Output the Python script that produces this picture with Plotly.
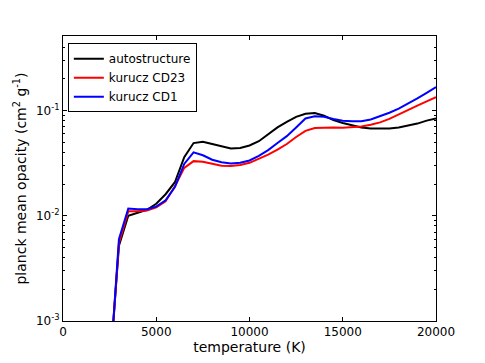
import plotly.graph_objects as go

# temperature grid (K)
temperature = [2500, 3000, 3500, 4000, 4500, 5000, 5500, 6000, 6500, 7000,
               7500, 8000, 8500, 9000, 9500, 10000, 10500, 11000, 11500, 12000,
               12500, 13000, 13500, 14000, 14500, 15000, 15500, 16000, 16500, 17000,
               17500, 18000, 18500, 19000, 19500, 20000]

autostructure = [3.3e-4, 0.0052, 0.0100, 0.0106, 0.0114, 0.0130, 0.0160, 0.0208, 0.036, 0.049,
                 0.0505, 0.048, 0.0455, 0.0435, 0.0440, 0.0465, 0.051, 0.059, 0.069, 0.078,
                 0.087, 0.093, 0.0945, 0.089, 0.081, 0.076, 0.072, 0.069, 0.0675, 0.067,
                 0.0675, 0.069, 0.072, 0.075, 0.080, 0.084]

kurucz_cd23 = [3.0e-4, 0.0055, 0.0110, 0.0110, 0.0112, 0.0120, 0.0137, 0.019, 0.0285, 0.033,
               0.0325, 0.031, 0.0298, 0.0296, 0.0303, 0.0318, 0.0345, 0.038, 0.0425, 0.048,
               0.056, 0.064, 0.068, 0.069, 0.069, 0.0685, 0.069, 0.0705, 0.073, 0.077,
               0.083, 0.092, 0.101, 0.111, 0.122, 0.134]

kurucz_cd1 = [3.0e-4, 0.0060, 0.0117, 0.0115, 0.0115, 0.0122, 0.0140, 0.0187, 0.031, 0.040,
              0.0375, 0.034, 0.0322, 0.0313, 0.0318, 0.0335, 0.037, 0.042, 0.049, 0.057,
              0.069, 0.084, 0.088, 0.087, 0.083, 0.080, 0.079, 0.079, 0.082, 0.088,
              0.095, 0.104, 0.116, 0.130, 0.147, 0.167]

series = [
    ('autostructure', autostructure, 'black'),
    ('kurucz CD23', kurucz_cd23, '#ff0000'),
    ('kurucz CD1', kurucz_cd1, '#0000ff'),
]

x_ticks = [0, 5000, 10000, 15000, 20000]
y_ticks = [1e-3, 1e-2, 1e-1]
y_ticktext = ['10<sup>-3</sup>', '10<sup>-2</sup>', '10<sup>-1</sup>']
y_minor = [m * 10 ** e for e in (-3, -2, -1) for m in range(2, 10)]

fig = go.Figure()
for name, values, color in series:
    fig.add_trace(go.Scatter(
        x=temperature,
        y=values,
        name=name,
        mode='lines',
        line=dict(color=color, width=2)
    ))

axis_style = dict(
    showline=True,
    linecolor='black',
    linewidth=1,
    mirror='allticks',
    ticks='inside',
    ticklen=4,
    tickcolor='black',
    showgrid=False,
    zeroline=False,
)

# the page body adds an 8px margin, so the figure is a little smaller
fig.update_layout(
    width=477,
    height=355,
    margin=dict(l=53, r=49, t=28, b=37),
    paper_bgcolor='white',
    plot_bgcolor='white',
    font=dict(family='DejaVu Sans', size=12, color='black'),
    showlegend=True,
    legend=dict(
        x=0.013, y=0.975, xanchor='left', yanchor='top',
        bordercolor='black', borderwidth=1, bgcolor='white',
        font=dict(size=12), tracegroupgap=0,
    ),
    xaxis=dict(
        range=[0, 20000],
        tickvals=x_ticks,
        ticktext=[str(v) for v in x_ticks],
        title=dict(text='temperature (K)', standoff=2),
        **axis_style
    ),
    yaxis=dict(
        type='log',
        range=[-3, -0.293],
        tickvals=y_ticks,
        ticktext=y_ticktext,
        minor=dict(tickvals=y_minor, ticks='inside', ticklen=2, tickcolor='black'),
        title=dict(text='planck mean opacity (cm<sup>2</sup> g<sup>-1</sup>)', standoff=6),
        **axis_style
    ),
)

fig.write_html("out.html")
